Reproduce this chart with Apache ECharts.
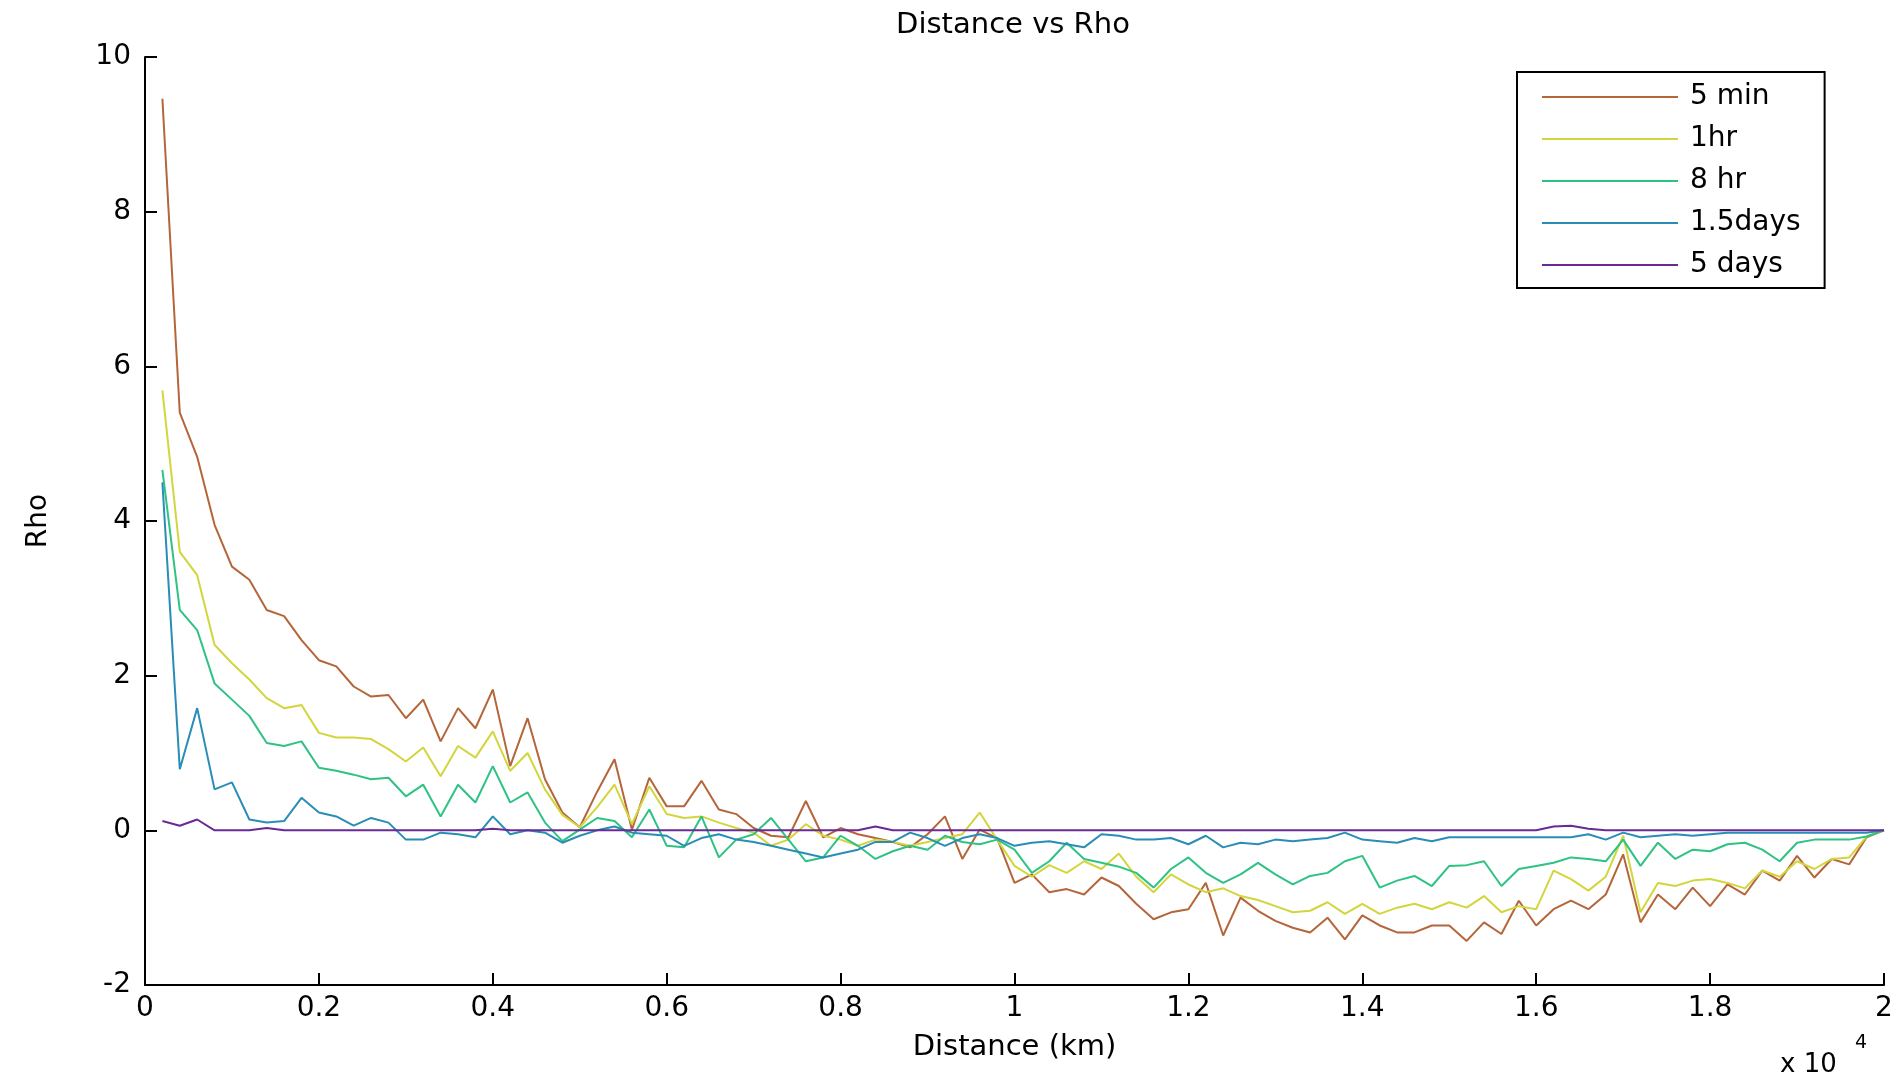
<!DOCTYPE html>
<html>
<head>
<meta charset="utf-8">
<script src="https://cdn.jsdelivr.net/npm/echarts@6/dist/echarts.min.js"></script>
<style>
html,body{margin:0;padding:0;background:#fff;}
#chart{width:1900px;height:1079px;}
</style>
</head>
<body>
<div id="chart"></div>
<script>
// Distance (km)
const distance = [
  200,400,600,800,1000,1200,1400,1600,1800,2000,
  2200,2400,2600,2800,3000,3200,3400,3600,3800,4000,
  4200,4400,4600,4800,5000,5200,5400,5600,5800,6000,
  6200,6400,6600,6800,7000,7200,7400,7600,7800,8000,
  8200,8400,8600,8800,9000,9200,9400,9600,9800,10000,
  10200,10400,10600,10800,11000,11200,11400,11600,11800,12000,
  12200,12400,12600,12800,13000,13200,13400,13600,13800,14000,
  14200,14400,14600,14800,15000,15200,15400,15600,15800,16000,
  16200,16400,16600,16800,17000,17200,17400,17600,17800,18000,
  18200,18400,18600,18800,19000,19200,19400,19600,19800,20000
];
const seriesNames = ['5 min', '1hr', '8 hr', '1.5days', '5 days'];
const rho5min = [
  9.46, 5.4, 4.83, 3.95, 3.41, 3.24, 2.85, 2.77, 2.46, 2.2,
  2.12, 1.86, 1.73, 1.75, 1.45, 1.69, 1.15, 1.58, 1.32, 1.82,
  0.83, 1.45, 0.66, 0.23, 0.04, 0.5, 0.92, 0.01, 0.68, 0.31,
  0.31, 0.64, 0.27, 0.21, 0.03, -0.07, -0.09, 0.38, -0.09, 0.03,
  -0.05, -0.1, -0.15, -0.22, -0.05, 0.18, -0.37, 0.01, -0.1, -0.68,
  -0.57, -0.8, -0.76, -0.83, -0.61, -0.72, -0.95, -1.15, -1.06, -1.02,
  -0.68, -1.36, -0.87, -1.04, -1.17, -1.26, -1.32, -1.13, -1.41, -1.1,
  -1.23, -1.32, -1.32, -1.23, -1.23, -1.43, -1.19, -1.34, -0.91, -1.23,
  -1.02, -0.91, -1.02, -0.83, -0.31, -1.19, -0.83, -1.02, -0.74, -0.98,
  -0.7, -0.83, -0.52, -0.65, -0.33, -0.61, -0.37, -0.44, -0.09, 0
];
const rho1hr = [
  5.69, 3.6, 3.3, 2.4, 2.16, 1.95, 1.71, 1.58, 1.62, 1.26,
  1.2, 1.2, 1.18, 1.05, 0.89, 1.07, 0.7, 1.09, 0.94, 1.28,
  0.77, 1.0, 0.53, 0.2, 0.04, 0.3, 0.59, 0.08, 0.57, 0.21,
  0.16, 0.18, 0.1, 0.03, -0.03, -0.2, -0.12, 0.08, -0.07, -0.12,
  -0.2, -0.12, -0.15, -0.2, -0.15, -0.1, -0.05, 0.23, -0.12, -0.46,
  -0.6, -0.45, -0.55, -0.4, -0.5, -0.3, -0.6, -0.8, -0.57, -0.7,
  -0.8, -0.75, -0.85, -0.9, -0.98, -1.06, -1.04, -0.93, -1.08, -0.95,
  -1.08, -1.0, -0.95, -1.02, -0.93, -1.0, -0.85, -1.06, -0.98, -1.02,
  -0.52, -0.63, -0.78, -0.6, -0.07, -1.06, -0.68, -0.72, -0.65, -0.63,
  -0.68, -0.75, -0.52, -0.6, -0.4, -0.5, -0.37, -0.35, -0.08, 0
];
const rho8hr = [
  4.66, 2.85, 2.59, 1.9, 1.69, 1.48, 1.13, 1.09, 1.15, 0.81,
  0.77, 0.72, 0.66, 0.68, 0.44, 0.59, 0.18, 0.59, 0.36, 0.83,
  0.36, 0.49, 0.1, -0.14, 0.01, 0.16, 0.12, -0.09, 0.27, -0.2,
  -0.22, 0.18, -0.35, -0.12, -0.05, 0.16, -0.12, -0.4, -0.35, -0.07,
  -0.2, -0.37, -0.27, -0.2, -0.25, -0.07, -0.15, -0.18, -0.12, -0.25,
  -0.55, -0.4, -0.16, -0.37, -0.42, -0.47, -0.55, -0.74, -0.5, -0.35,
  -0.55, -0.68, -0.57, -0.42, -0.57, -0.7, -0.59, -0.55, -0.4, -0.33,
  -0.74, -0.65, -0.59, -0.72, -0.46, -0.45, -0.4, -0.72, -0.5, -0.46,
  -0.42, -0.35, -0.37, -0.4, -0.12, -0.46, -0.16, -0.37, -0.25, -0.27,
  -0.18, -0.16, -0.25, -0.4, -0.16, -0.12, -0.12, -0.12, -0.08, 0
];
const rho15days = [
  4.5, 0.79, 1.58, 0.53, 0.62, 0.14, 0.1, 0.12, 0.42, 0.23,
  0.18, 0.06, 0.16, 0.1, -0.12, -0.12, -0.03, -0.05, -0.09, 0.18,
  -0.05, 0, -0.03, -0.16, -0.07, 0, 0.05, -0.03, -0.05, -0.07,
  -0.2, -0.1, -0.05, -0.12, -0.15, -0.2, -0.25, -0.3, -0.35, -0.3,
  -0.25, -0.15, -0.15, -0.03, -0.1, -0.2, -0.1, -0.05, -0.1, -0.2,
  -0.16, -0.14, -0.18, -0.22, -0.05, -0.07, -0.12, -0.12, -0.1, -0.18,
  -0.07, -0.22, -0.16, -0.18, -0.12, -0.14, -0.12, -0.1, -0.03, -0.12,
  -0.14, -0.16, -0.1, -0.14, -0.09, -0.09, -0.09, -0.09, -0.09, -0.09,
  -0.09, -0.09, -0.05, -0.12, -0.03, -0.09, -0.07, -0.05, -0.07, -0.05,
  -0.03, -0.03, -0.03, -0.03, -0.03, -0.03, -0.03, -0.03, -0.03, 0
];
const rho5days = [
  0.12, 0.06, 0.14, 0, 0, 0, 0.03, 0, 0, 0,
  0, 0, 0, 0, 0, 0, 0, 0, 0, 0.02,
  0, 0, 0, 0, 0, 0, 0, 0, 0, 0,
  0, 0, 0, 0, 0, 0, 0, 0, 0, 0,
  0, 0.05, 0, 0, 0, 0, 0, 0, 0, 0,
  0, 0, 0, 0, 0, 0, 0, 0, 0, 0,
  0, 0, 0, 0, 0, 0, 0, 0, 0, 0,
  0, 0, 0, 0, 0, 0, 0, 0, 0, 0,
  0.05, 0.06, 0.02, 0, 0, 0, 0, 0, 0, 0,
  0, 0, 0, 0, 0, 0, 0, 0, 0, 0
];
const xTicks = [0, 0.2, 0.4, 0.6, 0.8, 1, 1.2, 1.4, 1.6, 1.8, 2];
const yTicks = [-2, 0, 2, 4, 6, 8, 10];
const colors = ['#B5653A', '#D2D63C', '#2EC283', '#2A8DB5', '#6A2A96'];

const allSeries = [rho5min, rho1hr, rho8hr, rho15days, rho5days];
const FONT = 'DejaVu Sans';

const chart = echarts.init(document.getElementById('chart'), null, {renderer: 'canvas'});
chart.setOption({
  backgroundColor: '#ffffff',
  animation: false,
  color: colors,
  title: {
    text: 'Distance vs Rho',
    left: 1008, top: 6, textAlign: 'center',
    textStyle: {fontFamily: FONT, fontSize: 29, fontWeight: 'normal', color: '#000'}
  },
  grid: {left: 145, right: 16, top: 57, bottom: 94, containLabel: false},
  legend: {
    orient: 'vertical',
    left: 1517, top: 72,
    padding: [10, 24, 8, 25],
    icon: 'rect',
    itemWidth: 136, itemHeight: 2, itemGap: 12,
    borderColor: '#000', borderWidth: 2,
    backgroundColor: '#fff',
    textStyle: {fontFamily: FONT, fontSize: 28, color: '#000', lineHeight: 30, padding: [0, 0, 0, 7]},
    data: seriesNames
  },
  xAxis: {
    type: 'value', min: 0, max: 20000, interval: 2000,
    name: 'Distance (km)', nameLocation: 'middle', nameGap: 48,
    nameTextStyle: {fontFamily: FONT, fontSize: 29, color: '#000'},
    axisLine: {onZero: false, lineStyle: {color: '#000', width: 2}},
    axisTick: {inside: true, length: 12, lineStyle: {color: '#000', width: 2}},
    axisLabel: {
      fontFamily: FONT, fontSize: 28, color: '#000', margin: 10,
      formatter: function (v) {
        const t = xTicks.find(function (k) { return Math.abs(k * 10000 - v) < 1e-6; });
        return t === undefined ? '' : String(t);
      }
    },
    splitLine: {show: false}
  },
  yAxis: {
    type: 'value', min: -2, max: 10, interval: 2,
    name: 'Rho', nameLocation: 'middle', nameGap: 92, nameRotate: 90,
    nameTextStyle: {fontFamily: FONT, fontSize: 28, color: '#000'},
    axisLine: {onZero: false, lineStyle: {color: '#000', width: 2}},
    axisTick: {inside: true, length: 12, lineStyle: {color: '#000', width: 2}},
    axisLabel: {
      fontFamily: FONT, fontSize: 28, color: '#000', margin: 14,
      formatter: function (v) { return yTicks.indexOf(v) >= 0 ? String(v) : ''; }
    },
    splitLine: {show: false}
  },
  graphic: [
    {type: 'text', left: 1780, top: 1052, style: {text: 'x 10', fontFamily: FONT, fontSize: 26, fill: '#000'}},
    {type: 'text', left: 1855, top: 1034, style: {text: '4', fontFamily: FONT, fontSize: 19, fill: '#000'}}
  ],
  series: allSeries.map(function (vals, i) {
    return {
      name: seriesNames[i],
      type: 'line',
      symbol: 'none',
      data: distance.map(function (d, j) { return [d, vals[j]]; }),
      lineStyle: {width: 2, color: colors[i]},
      itemStyle: {color: colors[i]},
      z: 2 + i
    };
  })
});
</script>
</body>
</html>
